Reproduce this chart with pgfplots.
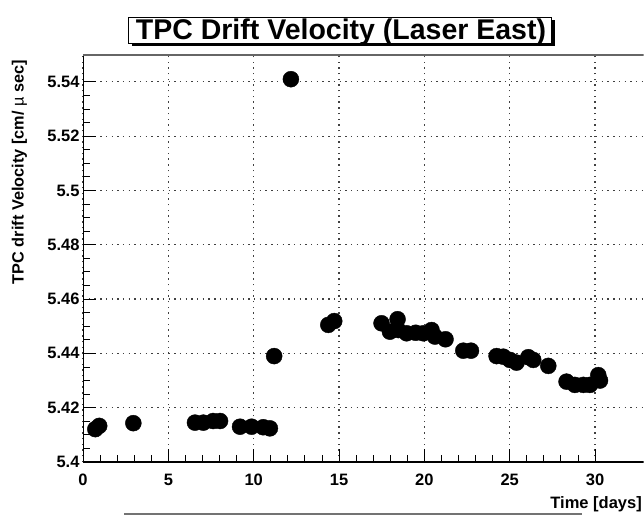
\documentclass[border=0pt]{standalone}
\usepackage{pgfplots}
\pgfplotsset{compat=1.18}
\usepackage{fontspec}
\setmainfont{Liberation Sans}
\pgfplotstableread{
x y
0.72 5.4121
0.95 5.4133
2.95 5.4143
6.56 5.4145
7.05 5.4145
7.63 5.4151
8.03 5.4151
9.20 5.4130
9.88 5.4130
10.56 5.4128
10.95 5.4124
11.20 5.4390
12.18 5.5410
14.37 5.4505
14.72 5.4519
17.49 5.4511
17.98 5.4480
18.43 5.4526
18.47 5.4486
18.96 5.4474
19.49 5.4476
19.94 5.4474
20.42 5.4486
20.62 5.4462
21.24 5.4452
22.28 5.4410
22.73 5.4410
24.23 5.4390
24.62 5.4388
25.01 5.4376
25.40 5.4366
26.09 5.4386
26.38 5.4376
27.26 5.4354
28.33 5.4296
28.82 5.4284
29.31 5.4284
29.70 5.4284
30.19 5.4320
30.29 5.4300
}\drift
\begin{document}
\begin{tikzpicture}[x=1pt,y=1pt]
\path[use as bounding box] (0,0) rectangle (644,516);
\begin{axis}[
 at={(83pt,54pt)}, anchor=south west,
 scale only axis, width=560.7pt, height=407.25pt,
 xmin=0, xmax=32.85, ymin=5.4, ymax=5.55,
 axis line style={draw=none},
 xtick={0,5,10,15,20,25,30}, minor x tick num=4,
 ytick={5.4,5.42,5.44,5.46,5.48,5.5,5.52,5.54}, minor y tick num=3,
 tick align=inside, major tick length=13pt, minor tick length=7pt,
 tick style={black, line width=0.9pt},
 xtick pos=bottom, ytick pos=left,
 grid=major,
 major grid style={black!75, line width=1.2pt, dash pattern=on 1.4pt off 4.3pt},
 /pgf/number format/assume math mode=true,
 ticklabel style={font=\fontsize{16.5}{16.5}\selectfont\bfseries},
 xticklabel style={anchor=base, yshift=-23pt},
 yticklabel style={/pgf/number format/fixed, /pgf/number format/precision=2},
]
\addplot[only marks, mark=*, mark size=8pt, black, mark options={fill=black}] table[x=x,y=y] {\drift};
\draw[line width=2pt, black] (rel axis cs:0,1) -- (rel axis cs:0,0) -- (rel axis cs:1,0);
\draw[line width=2pt, black!60] (rel axis cs:0,1) -- (rel axis cs:1,1);
\end{axis}
% title box with shadow
\fill[black] (132,470) rectangle (555,496);
\draw[fill=white, line width=0.8pt] (128,473) rectangle (551,499);
\node[anchor=base, inner sep=0, font=\fontsize{28.5}{28.5}\selectfont\bfseries] at (341,476) {TPC Drift Velocity (Laser East)};
% axis labels
\node[rotate=90, anchor=east, inner sep=0, font=\fontsize{16.3}{16.3}\selectfont\bfseries] at (19.5,456) {TPC drift Velocity [cm/ {\mdseries µ} sec]};
\node[anchor=base east, inner sep=0, font=\fontsize{16.5}{16.5}\selectfont\bfseries] at (642,8) {Time [days]};
\draw[black!55, line width=1.5pt] (124,2) -- (582,2);
\end{tikzpicture}
\end{document}
